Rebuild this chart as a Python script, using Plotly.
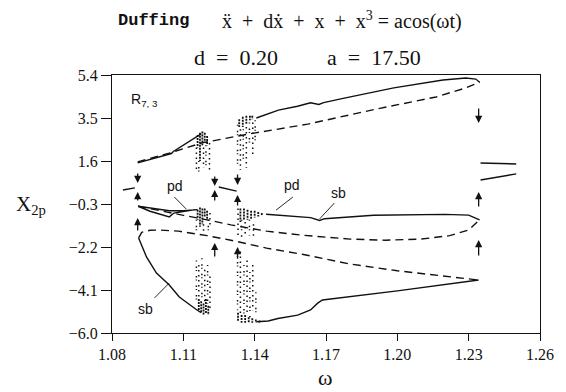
import plotly.graph_objects as go

# ---------------- data ----------------
# upper branch
up_solid_a_w = [1.0908, 1.0990, 1.1050, 1.1058, 1.1100, 1.1150, 1.1175]
up_solid_a_x = [1.52, 1.75, 1.93, 2.02, 2.30, 2.62, 2.80]
up_solid_b_w = [1.1407, 1.1500, 1.1580, 1.1635, 1.1670, 1.1690, 1.1777, 1.1985, 1.2192, 1.2288, 1.2330, 1.2346]
up_solid_b_x = [3.50, 3.85, 4.02, 4.17, 4.10, 4.18, 4.38, 4.83, 5.18, 5.27, 5.22, 5.08]
up_dash_w = [1.0908, 1.1041, 1.1178, 1.1374, 1.1623, 1.1914, 1.2163, 1.2288, 1.2346]
up_dash_x = [1.56, 1.95, 2.40, 2.79, 3.23, 3.90, 4.43, 4.83, 5.08]

# middle branch
mid_solid_a_w = [1.1150, 1.1100, 1.1060, 1.1041, 1.0960, 1.0910, 1.0950, 1.1041, 1.1100, 1.1160]
mid_solid_a_x = [-0.55, -0.62, -0.70, -0.87, -0.62, -0.40, -0.47, -0.60, -0.60, -0.55]
mid_solid_b_w = [1.1448, 1.1500, 1.1635, 1.1673, 1.1694, 1.1900, 1.2200, 1.2300, 1.2346]
mid_solid_b_x = [-0.75, -0.80, -0.90, -1.03, -0.95, -0.80, -0.76, -0.79, -1.00]
mid_dash_w = [1.0910, 1.1000, 1.1100, 1.1200, 1.1300, 1.1450, 1.1600, 1.1800, 1.1950, 1.2100, 1.2220, 1.2300, 1.2346]
mid_dash_x = [-0.40, -0.60, -0.80, -1.00, -1.22, -1.50, -1.68, -1.85, -1.90, -1.85, -1.70, -1.45, -1.00]

# lower branch
low_solid_a_w = [1.0912, 1.0925, 1.0945, 1.0987, 1.1041, 1.1083, 1.1125, 1.1153, 1.1175]
low_solid_a_x = [-1.80, -2.10, -2.64, -3.35, -3.88, -4.41, -4.75, -4.95, -5.10]
low_solid_b_w = [1.1407, 1.1457, 1.1498, 1.1581, 1.1635, 1.1665, 1.1685, 1.2000, 1.2342]
low_solid_b_x = [-5.50, -5.47, -5.36, -5.21, -4.98, -4.68, -4.54, -4.14, -3.66]
low_dash_w = [1.0912, 1.0925, 1.0960, 1.1000, 1.1080, 1.1200, 1.1300, 1.1450, 1.1600, 1.1800, 1.2000, 1.2200, 1.2342]
low_dash_x = [-1.80, -1.55, -1.46, -1.45, -1.50, -1.70, -1.90, -2.25, -2.52, -2.95, -3.25, -3.50, -3.66]

# short isolated branches
left_seg_w = [1.0846, 1.0896]
left_seg_x = [0.32, 0.41]
mid_seg_w = [1.1249, 1.1324]
mid_seg_x = [0.45, 0.27]
right_seg1_w = [1.2350, 1.2500]
right_seg1_x = [1.51, 1.47]
right_seg2_w = [1.2350, 1.2500]
right_seg2_x = [0.76, 1.03]

# chaotic bands: dense streaks (omega, top, bottom)
dense_w = [1.1160, 1.1170, 1.1180, 1.1190, 1.1200,
           1.1160, 1.1170, 1.1180, 1.1190, 1.1200,
           1.1165, 1.1175, 1.1185, 1.1195, 1.1205,
           1.1335, 1.1350, 1.1365, 1.1380, 1.1390,
           1.1340, 1.1355, 1.1370, 1.1385, 1.1400, 1.1415, 1.1430,
           1.1330, 1.1345, 1.1360, 1.1375, 1.1390, 1.1405, 1.1420]
dense_top = [2.75, 2.85, 2.90, 2.85, 2.70,
             -0.55, -0.45, -0.50, -0.50, -0.60,
             -4.50, -4.60, -4.70, -4.50, -4.80,
             3.45, 3.55, 3.60, 3.60, 3.60,
             -0.50, -0.50, -0.55, -0.60, -0.60, -0.65, -0.70,
             -5.10, -5.20, -5.20, -5.30, -5.35, -5.40, -5.45]
dense_bot = [2.20, 1.60, 2.30, 2.40, 2.30,
             -1.00, -1.30, -1.20, -0.90, -1.00,
             -5.00, -5.10, -5.20, -5.15, -5.20,
             3.10, 3.10, 3.20, 3.40, 3.45,
             -1.10, -1.00, -1.00, -0.95, -0.90, -0.85, -0.80,
             -5.50, -5.55, -5.55, -5.55, -5.55, -5.55, -5.55]
# sparse (dotted) streaks
sparse_w = [1.1155, 1.1165, 1.1185, 1.1195, 1.1210,
            1.1155, 1.1185, 1.1205, 1.1212,
            1.1155, 1.1165, 1.1178, 1.1190, 1.1202, 1.1212,
            1.1328, 1.1340, 1.1352, 1.1365, 1.1378, 1.1392, 1.1402,
            1.1330, 1.1345, 1.1360, 1.1378, 1.1395,
            1.1328, 1.1340, 1.1355, 1.1368, 1.1380, 1.1392, 1.1405]
sparse_top = [2.20, 1.60, 2.20, 2.30, 2.40,
              -1.00, -1.20, -1.00, -0.70,
              -2.80, -3.00, -2.70, -3.20, -3.00, -3.50,
              3.20, 3.00, 3.00, 3.10, 3.30, 3.30, 3.40,
              -0.50, -1.00, -1.10, -1.00, -1.20,
              -2.60, -2.40, -3.00, -2.80, -3.30, -3.00, -4.20]
sparse_bot = [1.10, 1.00, 1.30, 1.20, 1.10,
              -1.50, -1.55, -1.50, -1.30,
              -4.60, -4.40, -4.50, -4.60, -4.70, -4.90,
              1.40, 1.20, 1.60, 1.30, 2.20, 1.80, 2.50,
              -1.70, -1.80, -1.60, -1.70, -1.80,
              -5.00, -5.20, -5.30, -5.10, -5.30, -5.00, -5.30]

# stability jump arrows (omega, tail, head)
arrow_w = [1.0908, 1.0908, 1.0908, 1.1232, 1.1232, 1.1232, 1.1328, 1.1328, 1.1328, 1.2342, 1.2342, 1.2342]
arrow_tail = [1.11, -0.21, -1.54, 0.98, -0.21, -2.69, 1.07, -0.43, -2.78, 3.99, -0.48, -2.64]
arrow_head = [0.63, 0.23, -0.92, 0.50, 0.32, -2.02, 0.54, 0.10, -2.20, 3.28, 0.23, -1.89]

# labels with pointer lines
label_text = ["pd", "pd", "sb", "sb"]
label_w = [1.1066, 1.1556, 1.1752, 1.0941]
label_x = [0.50, 0.54, 0.19, -4.94]
ptr_w0 = [1.1062, 1.1561, 1.1735, 1.0979]
ptr_x0 = [0.01, 0.01, -0.26, -4.45]
ptr_w1 = [1.1112, 1.1490, 1.1673, 1.1041]
ptr_x1 = [-0.52, -0.57, -0.96, -3.79]

y_ticks = [5.4, 3.5, 1.6, -0.3, -2.2, -4.1, -6.0]
x_ticks = [1.08, 1.11, 1.14, 1.17, 1.20, 1.23, 1.26]

# ---------------- figure ----------------
fig = go.Figure()
BLACK = "#111111"
solid = dict(color=BLACK, width=1.4)
dashed = dict(color=BLACK, width=1.4, dash="8px,5px")


def add_line(w, x, line):
    fig.add_trace(go.Scatter(x=w, y=x, mode="lines", line=line,
                             hoverinfo="skip", showlegend=False))


for w, x in [(up_solid_a_w, up_solid_a_x), (up_solid_b_w, up_solid_b_x),
             (mid_solid_a_w, mid_solid_a_x), (mid_solid_b_w, mid_solid_b_x),
             (low_solid_a_w, low_solid_a_x), (low_solid_b_w, low_solid_b_x),
             (left_seg_w, left_seg_x), (mid_seg_w, mid_seg_x),
             (right_seg1_w, right_seg1_x), (right_seg2_w, right_seg2_x)]:
    add_line(w, x, solid)

for w, x in [(up_dash_w, up_dash_x), (mid_dash_w, mid_dash_x), (low_dash_w, low_dash_x)]:
    add_line(w, x, dashed)


def streaks(ws, tops, bots):
    xs, ys = [], []
    for w, t, b in zip(ws, tops, bots):
        xs += [w, w, None]
        ys += [t, b, None]
    return xs, ys


# sparse clouds: alternate two dot patterns so the columns look less regular
for k, pattern in enumerate(["1.5px,3.5px", "1px,5px,1.5px,2px"]):
    sx, sy = streaks(sparse_w[k::2], sparse_top[k::2], sparse_bot[k::2])
    fig.add_trace(go.Scatter(x=sx, y=sy, mode="lines",
                             line=dict(color=BLACK, width=1.5, dash=pattern),
                             hoverinfo="skip", showlegend=False))
dx, dy = streaks(dense_w, dense_top, dense_bot)
fig.add_trace(go.Scatter(x=dx, y=dy, mode="lines",
                         line=dict(color=BLACK, width=1.8, dash="2px,1px"),
                         hoverinfo="skip", showlegend=False))

# pointer lines
px_, py_ = [], []
for a, b, c, d in zip(ptr_w0, ptr_x0, ptr_w1, ptr_x1):
    px_ += [a, c, None]
    py_ += [b, d, None]
fig.add_trace(go.Scatter(x=px_, y=py_, mode="lines", line=dict(color=BLACK, width=0.9),
                         hoverinfo="skip", showlegend=False))

for t, w, x in zip(label_text, label_w, label_x):
    fig.add_annotation(x=w, y=x, text=t, showarrow=False,
                       font=dict(family="Liberation Sans, Arial", size=14, color=BLACK))

fig.add_annotation(x=1.0937, y=4.3, text="R<sub>7, 3</sub>", showarrow=False,
                   font=dict(family="Liberation Sans, Arial", size=14, color=BLACK))

for w, t, h in zip(arrow_w, arrow_tail, arrow_head):
    fig.add_annotation(x=w, y=h, ax=w, ay=t, xref="x", yref="y", axref="x", ayref="y",
                       text="", showarrow=True, arrowhead=2, arrowsize=1.1,
                       arrowwidth=1.3, arrowcolor=BLACK)

SERIF = "Liberation Serif, DejaVu Serif, serif"


def paper_text(x, y, text, size, family=SERIF):
    fig.add_annotation(xref="paper", yref="paper", x=x, y=y, text=text,
                       xanchor="center", yanchor="middle", showarrow=False,
                       font=dict(family=family, size=size, color=BLACK))


paper_text(0.097, 1.213, "<b>Duffing</b>", 17, "Liberation Mono, monospace")
paper_text(0.538, 1.213,
           "x\u0308\u2002+\u2002dx\u0307\u2002+\u2002x\u2002+\u2002x<sup>3</sup> = acos(\u03c9t)", 20)
paper_text(0.289, 1.066, "d\u2002=\u20020.20", 22)
paper_text(0.612, 1.066, "a\u2002=\u200217.50", 22)
paper_text(-0.189, 0.496, "X<sub>2p</sub>", 21)
paper_text(0.4965, -0.174, "\u03c9", 22)

fig.update_xaxes(range=[1.08, 1.26], tickvals=x_ticks,
                 ticktext=[f"{v:.2f}" for v in x_ticks],
                 showgrid=False, zeroline=False, showline=True, mirror=True,
                 linecolor=BLACK, linewidth=1, ticks="outside", ticklen=7,
                 tickcolor=BLACK, tickfont=dict(family=SERIF, size=16, color=BLACK))
fig.update_yaxes(range=[-6.0, 5.4], tickvals=y_ticks,
                 ticktext=[f"{v:.1f}".replace("-", "\u2212") for v in y_ticks],
                 showgrid=False, zeroline=False, showline=True, mirror=True,
                 linecolor=BLACK, linewidth=1, ticks="outside", ticklen=10,
                 tickcolor=BLACK, tickfont=dict(family=SERIF, size=16, color=BLACK))

fig.update_layout(width=566, height=392, margin=dict(l=112, r=21, t=75, b=59),
                  paper_bgcolor="white", plot_bgcolor="white", showlegend=False)

fig.write_html("out.html")
